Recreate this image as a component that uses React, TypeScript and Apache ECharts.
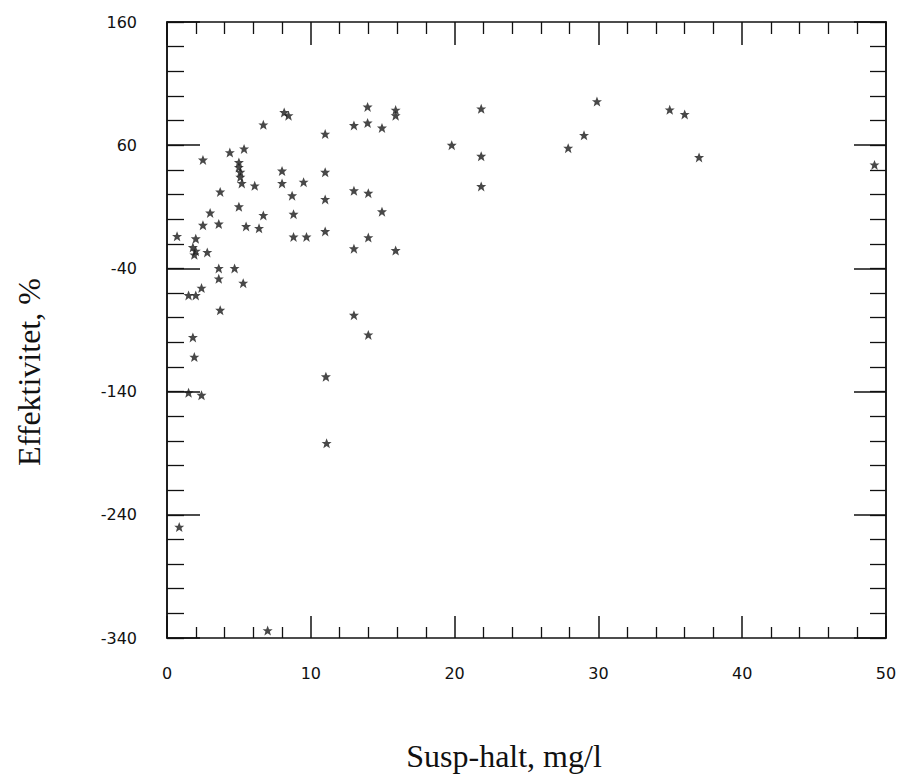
import React, { useEffect, useRef } from "react";
import * as echarts from "echarts";

// Suspended solids (mg/l)
const SUSP_HALT: number[] = [
  11.0, 4.37, 5.36, 2.5, 5.0, 5.0, 5.1, 5.1, 5.2, 6.1,
  8.0, 8.0, 9.5, 11.0, 8.7, 11.0, 3.7, 5.0, 3.0, 6.7,
  8.8, 2.5, 3.6, 5.5, 6.4, 11.0, 8.8, 9.7, 0.7, 2.0,
  1.8, 2.0, 1.9, 2.8, 3.6, 4.7, 3.6, 5.3, 2.4, 1.5,
  2.0, 3.7, 1.8, 1.9, 11.05, 1.5, 2.4, 13.0, 14.0, 11.1,
  0.85, 7.0, 8.15, 8.45, 6.7, 13.0, 13.95, 13.95, 14.95, 15.9,
  15.9, 21.85, 19.8, 21.85, 21.85, 13.0, 14.0, 14.95, 14.0, 13.0,
  15.9, 29.9, 27.9, 29.0, 34.96, 36.0, 37.0, 49.2,
];

// Efficiency (%)
const EFFEKTIVITET: number[] = [
  69, 54, 57, 48, 46, 42, 38, 34, 29, 27,
  39, 29, 30, 38, 19, 16, 22, 10, 5, 3,
  4, -5, -4, -6, -7.5, -10, -14.5, -14.5, -14, -16,
  -23, -26, -29, -27, -40, -40, -48.5, -52, -56, -62,
  -62, -74, -96, -112, -128, -141, -143, -78, -94, -182,
  -250, -334, 86.5, 84, 76.5, 76, 91, 78, 74, 88.5,
  84, 89.5, 60, 51, 26.5, 23, 21, 6, -15, -24,
  -25.5, 95.4, 57.6, 68, 88.7, 85, 50, 44,
];

const Y_TICK_LABELS: number[] = [-340, -240, -140, -40, 60, 160];
const X_TITLE = "Susp-halt, mg/l";
const Y_TITLE = "Effektivitet, %";

const INK = "#111";
const STAR =
  "path://M0,-5 L1.4,-1.6 L5,-1.6 L2.2,0.7 L3.3,4.6 L0,2.3 L-3.3,4.6 L-2.2,0.7 L-5,-1.6 L-1.4,-1.6 Z";

export default function App() {
  const ref = useRef<HTMLDivElement>(null);

  useEffect(() => {
    if (!ref.current) return;
    const chart = echarts.init(ref.current, undefined, { renderer: "svg" });
    const line = { color: INK, width: 1.5 };
    const labelStyle = {
      fontFamily: "DejaVu Sans",
      fontSize: 16,
      color: INK,
    };
    const xBase = (position: "top" | "bottom", major: number, minor: number, labels: boolean) => ({
      type: "value",
      position,
      min: 0,
      max: 50,
      interval: 10,
      axisLine: { show: true, onZero: false, lineStyle: line },
      axisTick: { show: true, inside: true, length: major, lineStyle: line },
      minorTick: { show: true, splitNumber: 5, length: minor, lineStyle: { color: INK, width: 1.3 } },
      axisLabel: { show: labels, margin: 27, ...labelStyle },
      splitLine: { show: false },
      minorSplitLine: { show: false },
    });
    const yMinor = (position: "left" | "right", len: number) => ({
      type: "value",
      position,
      min: -340,
      max: 160,
      interval: 20,
      axisLine: { show: true, onZero: false, lineStyle: line },
      axisTick: { show: true, inside: true, length: len, lineStyle: { color: INK, width: 1.3 } },
      axisLabel: { show: false },
      splitLine: { show: false },
    });
    const yMajor = (position: "left" | "right", len: number, labels: boolean) => ({
      type: "value",
      position,
      min: -340,
      max: 160,
      axisLine: { show: true, onZero: false, lineStyle: line },
      axisTick: { show: true, inside: true, length: len, customValues: Y_TICK_LABELS, lineStyle: line },
      axisLabel: { show: labels, customValues: Y_TICK_LABELS, margin: 30, ...labelStyle },
      splitLine: { show: false },
    });

    chart.setOption({
      animation: false,
      backgroundColor: "#fff",
      grid: { left: 167, top: 22, right: 23, bottom: 138, containLabel: false, outerBoundsMode: "none" },
      xAxis: [xBase("bottom", 22, 11, true), xBase("top", 23, 12, false)],
      yAxis: [
        yMinor("left", 17),
        yMajor("left", 33, true),
        yMinor("right", 16),
        yMajor("right", 32, false),
      ],
      series: [
        {
          type: "scatter",
          xAxisIndex: 0,
          yAxisIndex: 0,
          symbol: STAR,
          symbolSize: 10,
          itemStyle: { color: "#1a1a1a" },
          data: SUSP_HALT.map((x, i) => [x, EFFEKTIVITET[i]]),
        },
      ],
      graphic: [
        {
          type: "text",
          x: 29,
          y: 372,
          rotation: Math.PI / 2,
          style: {
            text: Y_TITLE,
            font: '32px "Liberation Serif"',
            fill: INK,
            align: "center",
            verticalAlign: "middle",
          },
        },
        {
          type: "text",
          x: 504,
          y: 756,
          style: {
            text: X_TITLE,
            font: '32px "Liberation Serif"',
            fill: INK,
            align: "center",
            verticalAlign: "middle",
          },
        },
      ],
    });
    return () => chart.dispose();
  }, []);

  return (
    <div
      ref={ref}
      style={{ position: "fixed", left: 0, top: 0, width: 909, height: 776, background: "#fff" }}
    />
  );
}
